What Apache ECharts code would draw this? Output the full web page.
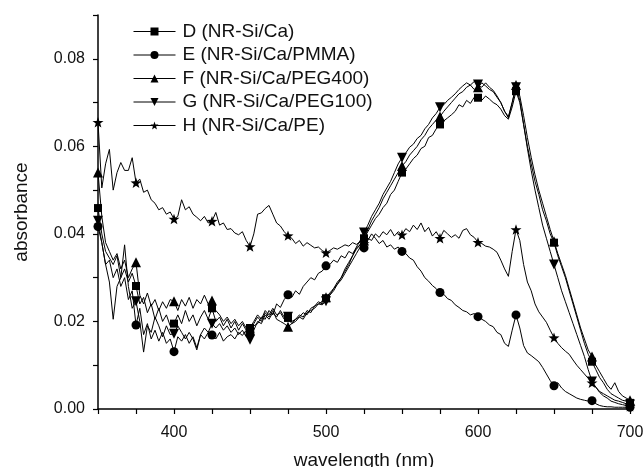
<!DOCTYPE html>
<html><head><meta charset="utf-8">
<script src="https://cdn.jsdelivr.net/npm/echarts@6/dist/echarts.min.js"></script>
<style>html,body{margin:0;padding:0;background:#fff}#c{width:643px;height:467px}</style>
</head><body><div id="c"></div>
<script>
// wavelength grid: 350 nm to 700 nm, sampled every 2.5 nm
const startNm = 350, stepNm = 2.5;
const seriesNames = ['D (NR-Si/Ca)','E (NR-Si/Ca/PMMA)','F (NR-Si/Ca/PEG400)','G (NR-Si/Ca/PEG100)','H (NR-Si/Ca/PE)'];
const xTickLabels = [400, 500, 600, 700];
const yTickLabels = [0.00, 0.02, 0.04, 0.06, 0.08];

const D = [
0.0459,0.0400,0.0360,0.0345,0.0330,0.0350,0.0300,0.0320,0.0290,0.0310,
0.0281,0.0240,0.0255,0.0220,0.0240,0.0205,0.0230,0.0200,0.0215,0.0190,
0.0195,0.0215,0.0195,0.0225,0.0200,0.0215,0.0190,0.0210,0.0225,0.0205,
0.0230,0.0200,0.0210,0.0190,0.0205,0.0185,0.0200,0.0180,0.0195,0.0180,
0.0185,0.0200,0.0215,0.0205,0.0225,0.0215,0.0230,0.0215,0.0220,0.0205,
0.0208,0.0195,0.0205,0.0210,0.0220,0.0215,0.0230,0.0235,0.0245,0.0240,
0.0253,0.0260,0.0275,0.0285,0.0295,0.0310,0.0325,0.0340,0.0355,0.0370,
0.0390,0.0405,0.0420,0.0435,0.0445,0.0460,0.0470,0.0490,0.0500,0.0520,
0.0540,0.0548,0.0560,0.0572,0.0580,0.0595,0.0600,0.0620,0.0625,0.0640,
0.0650,0.0658,0.0665,0.0672,0.0680,0.0695,0.0690,0.0705,0.0698,0.0712,
0.0711,0.0705,0.0715,0.0708,0.0700,0.0695,0.0685,0.0670,0.0662,0.0690,
0.0726,0.0700,0.0650,0.0600,0.0560,0.0520,0.0490,0.0455,0.0430,0.0400,
0.0380,0.0350,0.0325,0.0300,0.0270,0.0240,0.0210,0.0180,0.0150,0.0125,
0.0108,0.0090,0.0072,0.0060,0.0045,0.0035,0.0030,0.0025,0.0020,0.0018,
0.0014];
const E = [
0.0417,0.0380,0.0330,0.0340,0.0300,0.0320,0.0280,0.0300,0.0250,0.0270,
0.0192,0.0230,0.0170,0.0195,0.0160,0.0180,0.0155,0.0175,0.0150,0.0160,
0.0131,0.0165,0.0155,0.0170,0.0150,0.0165,0.0140,0.0170,0.0160,0.0175,
0.0169,0.0160,0.0175,0.0155,0.0165,0.0170,0.0160,0.0175,0.0168,0.0180,
0.0175,0.0190,0.0195,0.0210,0.0205,0.0225,0.0215,0.0240,0.0232,0.0250,
0.0261,0.0255,0.0270,0.0262,0.0280,0.0290,0.0300,0.0295,0.0310,0.0315,
0.0327,0.0330,0.0340,0.0335,0.0350,0.0345,0.0360,0.0355,0.0368,0.0375,
0.0368,0.0385,0.0400,0.0390,0.0378,0.0385,0.0370,0.0375,0.0365,0.0370,
0.0360,0.0355,0.0345,0.0340,0.0325,0.0315,0.0300,0.0292,0.0282,0.0275,
0.0266,0.0262,0.0252,0.0248,0.0238,0.0232,0.0225,0.0222,0.0215,0.0218,
0.0211,0.0205,0.0200,0.0192,0.0188,0.0175,0.0170,0.0150,0.0143,0.0180,
0.0215,0.0185,0.0145,0.0128,0.0122,0.0115,0.0108,0.0095,0.0080,0.0065,
0.0053,0.0060,0.0048,0.0040,0.0035,0.0030,0.0025,0.0022,0.0020,0.0018,
0.0019,0.0012,0.0008,0.0006,0.0005,0.0005,0.0004,0.0004,0.0004,0.0004,
0.0004];
const F = [
0.0540,0.0440,0.0380,0.0360,0.0340,0.0355,0.0320,0.0340,0.0300,0.0320,
0.0335,0.0260,0.0240,0.0265,0.0235,0.0250,0.0225,0.0245,0.0230,0.0250,
0.0246,0.0225,0.0250,0.0235,0.0255,0.0230,0.0250,0.0240,0.0260,0.0240,
0.0248,0.0225,0.0215,0.0200,0.0210,0.0195,0.0205,0.0190,0.0200,0.0185,
0.0180,0.0195,0.0210,0.0200,0.0220,0.0210,0.0225,0.0205,0.0200,0.0195,
0.0188,0.0195,0.0200,0.0210,0.0205,0.0220,0.0225,0.0230,0.0240,0.0245,
0.0255,0.0265,0.0275,0.0290,0.0300,0.0320,0.0335,0.0350,0.0365,0.0375,
0.0385,0.0410,0.0430,0.0445,0.0460,0.0480,0.0495,0.0510,0.0525,0.0540,
0.0555,0.0565,0.0580,0.0590,0.0600,0.0615,0.0625,0.0640,0.0650,0.0660,
0.0668,0.0680,0.0690,0.0700,0.0710,0.0720,0.0725,0.0735,0.0740,0.0730,
0.0735,0.0745,0.0738,0.0730,0.0725,0.0712,0.0700,0.0680,0.0665,0.0700,
0.0740,0.0715,0.0670,0.0620,0.0575,0.0535,0.0500,0.0470,0.0440,0.0410,
0.0383,0.0355,0.0330,0.0305,0.0275,0.0245,0.0215,0.0185,0.0160,0.0135,
0.0120,0.0100,0.0085,0.0070,0.0055,0.0045,0.0060,0.0040,0.0030,0.0025,
0.0020];
const G = [
0.0430,0.0380,0.0330,0.0290,0.0205,0.0280,0.0300,0.0375,0.0280,0.0230,
0.0246,0.0200,0.0130,0.0190,0.0175,0.0210,0.0190,0.0165,0.0190,0.0170,
0.0172,0.0190,0.0175,0.0160,0.0175,0.0160,0.0135,0.0170,0.0185,0.0175,
0.0195,0.0185,0.0195,0.0180,0.0190,0.0175,0.0185,0.0170,0.0180,0.0165,
0.0158,0.0180,0.0200,0.0195,0.0215,0.0205,0.0220,0.0210,0.0225,0.0210,
0.0211,0.0200,0.0205,0.0215,0.0210,0.0225,0.0220,0.0235,0.0240,0.0238,
0.0246,0.0260,0.0270,0.0285,0.0300,0.0315,0.0330,0.0350,0.0370,0.0385,
0.0403,0.0420,0.0440,0.0455,0.0470,0.0490,0.0505,0.0520,0.0540,0.0560,
0.0574,0.0585,0.0598,0.0605,0.0618,0.0625,0.0640,0.0650,0.0665,0.0675,
0.0689,0.0695,0.0705,0.0712,0.0720,0.0730,0.0738,0.0745,0.0740,0.0748,
0.0741,0.0735,0.0745,0.0735,0.0728,0.0715,0.0700,0.0680,0.0668,0.0700,
0.0735,0.0705,0.0650,0.0595,0.0545,0.0500,0.0460,0.0420,0.0390,0.0360,
0.0330,0.0300,0.0270,0.0245,0.0220,0.0195,0.0170,0.0145,0.0120,0.0090,
0.0063,0.0050,0.0040,0.0035,0.0030,0.0025,0.0020,0.0018,0.0015,0.0012,
0.0010];
const H = [
0.0655,0.0505,0.0560,0.0593,0.0500,0.0540,0.0563,0.0545,0.0545,0.0574,
0.0517,0.0525,0.0495,0.0500,0.0478,0.0470,0.0455,0.0460,0.0445,0.0450,
0.0434,0.0440,0.0478,0.0455,0.0462,0.0445,0.0438,0.0430,0.0440,0.0425,
0.0429,0.0449,0.0420,0.0425,0.0410,0.0412,0.0402,0.0398,0.0405,0.0385,
0.0371,0.0400,0.0445,0.0448,0.0458,0.0465,0.0445,0.0425,0.0418,0.0405,
0.0396,0.0390,0.0378,0.0385,0.0372,0.0380,0.0374,0.0368,0.0370,0.0362,
0.0357,0.0362,0.0368,0.0365,0.0370,0.0375,0.0372,0.0380,0.0376,0.0382,
0.0378,0.0390,0.0385,0.0400,0.0392,0.0405,0.0398,0.0410,0.0395,0.0405,
0.0398,0.0412,0.0405,0.0420,0.0410,0.0425,0.0405,0.0415,0.0395,0.0405,
0.0390,0.0408,0.0400,0.0392,0.0398,0.0390,0.0408,0.0412,0.0398,0.0392,
0.0381,0.0378,0.0372,0.0370,0.0365,0.0358,0.0340,0.0320,0.0303,0.0360,
0.0410,0.0385,0.0330,0.0290,0.0270,0.0240,0.0222,0.0210,0.0198,0.0180,
0.0163,0.0150,0.0140,0.0132,0.0125,0.0112,0.0100,0.0090,0.0080,0.0070,
0.0060,0.0050,0.0038,0.0030,0.0025,0.0018,0.0015,0.0012,0.0010,0.0008,
0.0006];

const STAR = 'path://M0,-10L2.35,-3.24L9.51,-3.09L3.8,1.24L5.88,8.09L0,4.2L-5.88,8.09L-3.8,1.24L-9.51,-3.09L-2.35,-3.24Z';
const seriesValues = [D, E, F, G, H];
const symbols = ['rect', 'circle', 'triangle', 'triangle', STAR];
const rotations = [0, 0, 0, 180, 0];
const sizes = [8, 9, 10, 10, 11];

const FONT = '"Liberation Sans", Arial, Helvetica, sans-serif';
const chart = echarts.init(document.getElementById('c'), null, {renderer: 'canvas'});
const series = seriesValues.map((vals, s) => ({
  name: seriesNames[s],
  type: 'line',
  data: vals.map((v, i) => [startNm + stepNm * i, v]),
  symbol: symbols[s],
  symbolRotate: rotations[s],
  symbolKeepAspect: true,
  symbolSize: (val, p) => (p.dataIndex % 10 === 0 ? sizes[s] : 0),
  showAllSymbol: true,
  lineStyle: {color: '#000', width: 1},
  itemStyle: {color: '#000', borderWidth: 0},
  emphasis: {disabled: true},
  animation: false,
  clip: false,
  z: 2
}));

chart.setOption({
  animation: false,
  backgroundColor: '#fff',
  grid: {left: 98, right: 13, top: 15, bottom: 58, containLabel: false, outerBoundsMode: 'none'},
  legend: {
    orient: 'vertical', left: 133, top: 22, padding: 0,
    itemWidth: 42, itemHeight: 10, itemGap: 4.5,
    textStyle: {fontFamily: FONT, fontSize: 19, color: '#111', padding: [0, 0, 0, 2]},
    data: seriesNames.map(n => ({name: n, itemStyle: {color: '#000'}, lineStyle: {color: '#000', width: 1}})),
    selectedMode: false
  },
  xAxis: {
    type: 'value', min: 350, max: 700, interval: 25,
    name: 'wavelength (nm)', nameLocation: 'middle', nameGap: 42,
    nameTextStyle: {fontFamily: FONT, fontSize: 19, color: '#111'},
    axisLine: {show: true, onZero: false, lineStyle: {color: '#000', width: 1.5}},
    axisTick: {show: true, inside: false, length: 5, lineStyle: {color: '#000', width: 1.2}},
    axisLabel: {fontFamily: FONT, fontSize: 16, color: '#111', margin: 16,
      formatter: v => (xTickLabels.indexOf(Math.round(v)) >= 0 ? String(Math.round(v)) : '')},
    splitLine: {show: false}
  },
  yAxis: {
    type: 'value', min: 0, max: 0.09, interval: 0.01,
    name: 'absorbance', nameLocation: 'middle', nameGap: 67,
    nameTextStyle: {fontFamily: FONT, fontSize: 19, color: '#111'},
    axisLine: {show: true, onZero: false, lineStyle: {color: '#000', width: 1.5}},
    axisTick: {show: true, inside: false, length: 5, lineStyle: {color: '#000', width: 1.2}},
    axisLabel: {fontFamily: FONT, fontSize: 16, color: '#111', margin: 13,
      formatter: v => {
        const hit = yTickLabels.find(t => Math.abs(t - v) < 1e-6);
        return hit === undefined ? '' : hit.toFixed(2);
      }},
    splitLine: {show: false}
  },
  series: series
});
</script>
</body></html>
